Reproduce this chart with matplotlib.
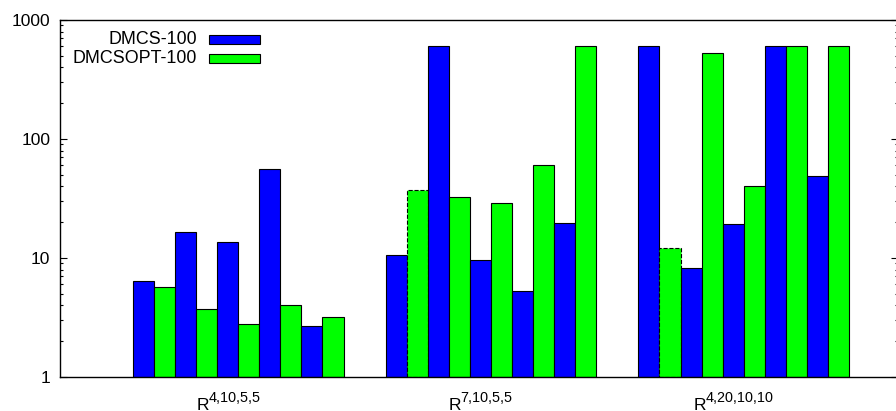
import matplotlib
matplotlib.use("Agg")
import matplotlib.pyplot as plt
from matplotlib.patches import Rectangle
from matplotlib import transforms
import numpy as np

plt.rcParams['font.family'] = ['Liberation Sans', 'DejaVu Sans']

# ---- data ----
group_base = ['R', 'R', 'R']
group_sup = ['4,10,5,5', '7,10,5,5', '4,20,10,10']
series_names = ['DMCS-100', 'DMCSOPT-100']
series_colors = ['#0000ff', '#00ff00']
dmcs = [
    [6.4, 16.6, 13.5, 56.0, 2.7],
    [10.5, 600, 9.7, 5.25, 19.8],
    [600, 8.2, 19.2, 600, 49.0],
]
dmcsopt = [
    [5.7, 3.7, 2.8, 4.05, 3.2],
    [37.5, 32.3, 29.0, 60.0, 600],
    [12.2, 530, 40.5, 600, 600],
]
dashed = [
    [False, False, False, False, False],
    [True, False, False, False, False],
    [True, False, False, False, False],
]

W, H = 896, 411
fig = plt.figure(figsize=(W / 100, H / 100), dpi=100)
L, R, T, B = 60, 897.5, 20, 377
ax = fig.add_axes([L / W, (H - B) / H, (R - L) / W, (B - T) / H])

group_span = 12
for g in range(len(group_base)):
    d = np.asarray(dmcs[g], dtype=float)
    o = np.asarray(dmcsopt[g], dtype=float)
    for k in range(len(d)):
        xb = g * group_span + 2 * k
        ax.bar(xb, d[k] - 1, width=1.0, bottom=1, align='edge',
               color=series_colors[0], edgecolor='black', linewidth=0.8)
        ls = '--' if dashed[g][k] else '-'
        ax.bar(xb + 1, o[k] - 1, width=1.0, bottom=1, align='edge',
               color=series_colors[1], edgecolor='black', linewidth=0.8,
               linestyle=ls)

ax.set_yscale('log')
ax.set_ylim(1, 1000)
ax.set_xlim(-3.46, 36.3)
ax.set_yticks([1, 10, 100, 1000])
ax.set_yticklabels(['1', '10', '100', '1000'])
ax.tick_params(axis='y', which='both', direction='in', left=True, right=True,
               labelsize=12.5, pad=7, width=0.8)
ax.tick_params(axis='y', which='major', length=5)
ax.tick_params(axis='y', which='minor', length=2.5)
ax.tick_params(axis='x', bottom=False, top=False, labelbottom=False)
for s in ax.spines.values():
    s.set_linewidth(1.0)

# group labels (gnuplot-like "R^{...}" with enhanced-text superscript)
label_shift_px = [-41.5, -42.5, -50.0]
base_y = -(409.5 - B) / (B - T)
sup_y = -(401.5 - B) / (B - T)
for g in range(len(group_base)):
    cx = g * group_span + 5
    tr = transforms.blended_transform_factory(ax.transData, ax.transAxes) + \
        transforms.ScaledTranslation(label_shift_px[g] / 100, 0, fig.dpi_scale_trans)
    ax.text(cx, base_y, group_base[g], transform=tr, ha='left',
            va='baseline', fontsize=12.5, clip_on=False)
    tr2 = transforms.blended_transform_factory(ax.transData, ax.transAxes) + \
        transforms.ScaledTranslation((label_shift_px[g] + 12.2) / 100, 0, fig.dpi_scale_trans)
    ax.text(cx, sup_y, group_sup[g], transform=tr2, ha='left',
            va='baseline', fontsize=10.4, clip_on=False)

# legend (drawn manually, gnuplot style)
def ax_frac(px, py):
    return ((px - L) / (R - L), (B - py) / (B - T))

for i, (name, col) in enumerate(zip(series_names, series_colors)):
    yc = 40 + i * 18.5
    tx, ty = ax_frac(197, yc)
    ax.text(tx, ty, name, transform=ax.transAxes, ha='right', va='center',
            fontsize=12.9)
    x0, y0 = ax_frac(209, yc + 4.5)
    x1, y1 = ax_frac(260, yc - 4.5)
    ax.add_patch(Rectangle((x0, y0), x1 - x0, y1 - y0, transform=ax.transAxes,
                           facecolor=col, edgecolor='black', linewidth=0.8))

fig.savefig('out.png', dpi=100)
